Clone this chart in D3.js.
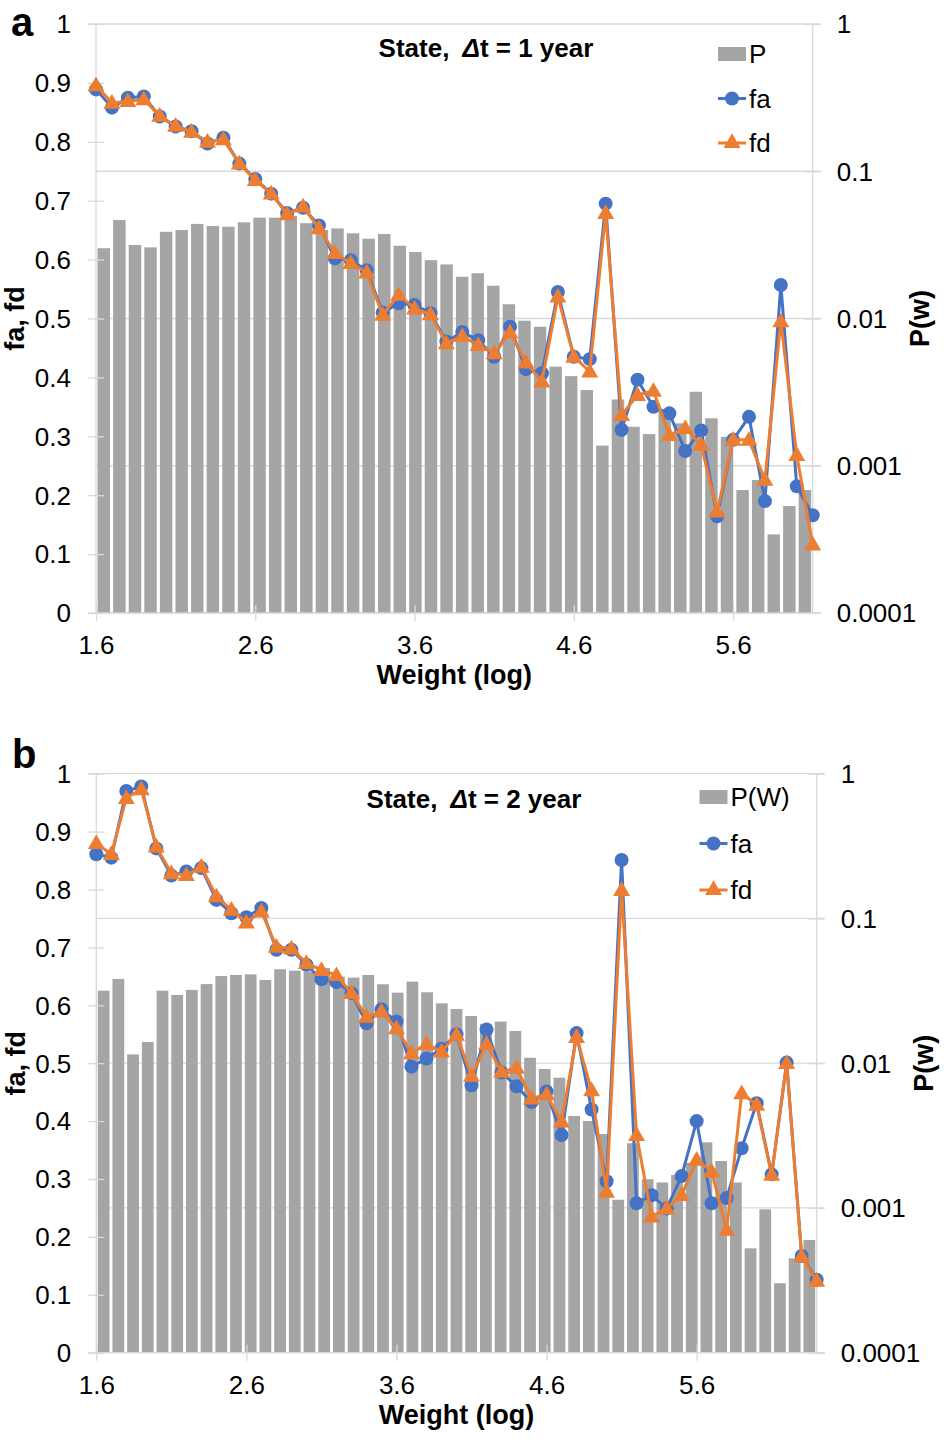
<!DOCTYPE html>
<html><head><meta charset="utf-8">
<script src="https://cdn.jsdelivr.net/npm/d3@7"></script>
<style>
html,body{margin:0;padding:0;background:#fff;}
svg text{font-family:"Liberation Sans",Arial,Helvetica,sans-serif;fill:#000;}
</style></head>
<body><svg id="chart" width="944" height="1441"></svg>
<script>
// ---------- DATA ----------
const weightsA = [1.6,1.7,1.8,1.9,2.0,2.1,2.2,2.3,2.4,2.5,2.6,2.7,2.8,2.9,3.0,3.1,3.2,3.3,3.4,3.5,3.6,3.7,3.8,3.9,4.0,4.1,4.2,4.3,4.4,4.5,4.6,4.7,4.8,4.9,5.0,5.1,5.2,5.3,5.4,5.5,5.6,5.7,5.8,5.9,6.0,6.1];
const pA = [0.0300,0.0467,0.0316,0.0304,0.0388,0.0399,0.0439,0.0425,0.0420,0.0450,
            0.0484,0.0484,0.0497,0.0444,0.0399,0.0409,0.0379,0.0348,0.0375,0.0312,
            0.0283,0.0249,0.0233,0.0192,0.0203,0.0167,0.0125,0.00966,0.00879,0.00471,
            0.00406,0.00327,0.00137,0.00282,0.00184,0.00164,0.00239,0.00194,0.00318,0.00210,
            0.00157,0.000684,0.000800,0.000342,0.000533,0.000684];
const faA = [0.889,0.858,0.875,0.877,0.843,0.826,0.818,0.797,0.807,0.763,
             0.737,0.712,0.679,0.688,0.658,0.602,0.599,0.582,0.510,0.526,
             0.523,0.509,0.461,0.477,0.463,0.435,0.486,0.414,0.407,0.545,
             0.435,0.431,0.695,0.311,0.396,0.350,0.339,0.275,0.310,0.164,
             0.294,0.333,0.190,0.557,0.215,0.166];
const fdA = [0.896,0.866,0.869,0.872,0.844,0.827,0.817,0.800,0.804,0.763,
             0.735,0.712,0.677,0.690,0.653,0.611,0.594,0.578,0.506,0.540,
             0.517,0.507,0.458,0.470,0.455,0.441,0.476,0.425,0.393,0.537,
             0.435,0.410,0.679,0.336,0.370,0.377,0.302,0.314,0.285,0.172,
             0.294,0.294,0.226,0.495,0.268,0.116];

const weightsB = [1.6,1.7,1.8,1.9,2.0,2.1,2.2,2.3,2.4,2.5,2.6,2.7,2.8,2.9,3.0,3.1,3.2,3.3,3.4,3.5,3.6,3.7,3.8,3.9,4.0,4.1,4.2,4.3,4.4,4.5,4.6,4.7,4.8,4.9,5.0,5.1,5.2,5.3,5.4,5.5,5.6,5.7,5.8,5.9,6.0,6.1,6.2,6.3,6.4];
const pB = [0.0317,0.0382,0.0115,0.0140,0.0317,0.0296,0.0321,0.0352,0.0400,0.0407,
            0.0411,0.0376,0.0446,0.0436,0.0429,0.0455,0.0396,0.0390,0.0407,0.0351,
            0.0307,0.0366,0.0309,0.0259,0.0237,0.0212,0.0187,0.0194,0.0167,0.0109,
            0.00912,0.00794,0.00432,0.00399,0.00324,0.00114,0.00280,0.00158,0.00150,0.00169,
            0.00205,0.00284,0.00211,0.00150,0.000526,0.000979,0.000302,0.000449,0.000601];
const faB = [0.861,0.855,0.970,0.978,0.871,0.824,0.831,0.837,0.782,0.759,
             0.752,0.768,0.696,0.696,0.670,0.645,0.640,0.621,0.569,0.593,
             0.572,0.494,0.508,0.525,0.550,0.462,0.558,0.484,0.460,0.433,
             0.451,0.376,0.552,0.420,0.296,0.851,0.258,0.272,0.249,0.305,
             0.400,0.258,0.267,0.353,0.431,0.308,0.501,0.167,0.126];
const fdB = [0.880,0.861,0.958,0.973,0.874,0.828,0.825,0.839,0.788,0.765,
             0.743,0.762,0.701,0.698,0.673,0.661,0.652,0.621,0.580,0.589,
             0.560,0.517,0.533,0.520,0.549,0.478,0.533,0.485,0.492,0.439,
             0.446,0.399,0.545,0.453,0.278,0.799,0.376,0.235,0.249,0.272,
             0.333,0.313,0.212,0.448,0.428,0.307,0.500,0.166,0.124];

const leftTicks = [0,0.1,0.2,0.3,0.4,0.5,0.6,0.7,0.8,0.9,1];
const leftTickLabels = ["0","0.1","0.2","0.3","0.4","0.5","0.6","0.7","0.8","0.9","1"];
const rightTicks = [0.0001,0.001,0.01,0.1,1];
const rightTickLabels = ["0.0001","0.001","0.01","0.1","1"];
const xTicks = [1.6,2.6,3.6,4.6,5.6];
const xTickLabels = ["1.6","2.6","3.6","4.6","5.6"];

// ---------- STYLE ----------
const BAR = "#a5a5a5", BLUE = "#4472c4", ORANGE = "#ed7d31", GRID = "#d9d9d9";
const FS = 26;

const svg = d3.select("#chart");

function drawPanel(o) {
  const g = svg.append("g");
  const x = d3.scaleLinear().domain([o.weights[0], o.weights[o.weights.length-1]]).range([o.x0, o.x1]);
  const band = d3.scaleBand().domain(o.weights.map(String)).range([o.x0, o.x1]).paddingInner(0.2).paddingOuter(0.1);
  const yL = d3.scaleLinear().domain([0,1]).range([o.yBot, o.yTop]);
  const yR = d3.scaleLog().domain([0.0001,1]).range([o.yBot, o.yTop]);

  // gridlines (right axis)
  g.append("g").selectAll("line").data(rightTicks).join("line")
    .attr("x1", (d,i) => i === rightTicks.length-1 ? o.x0-8 : o.x0)
    .attr("x2", o.x1+8)
    .attr("y1", d => yR(d)).attr("y2", d => yR(d))
    .attr("stroke", GRID).attr("stroke-width", 1.3);

  // bars
  g.append("g").selectAll("rect").data(o.p).join("rect")
    .attr("x", (d,i) => band(String(o.weights[i])))
    .attr("width", band.bandwidth())
    .attr("y", d => yR(d))
    .attr("height", d => o.yBot - yR(d))
    .attr("fill", BAR);

  // axis lines
  g.append("line").attr("x1", o.x0).attr("x2", o.x0).attr("y1", o.yTop).attr("y2", o.yBot).attr("stroke", GRID).attr("stroke-width",1.3);
  g.append("line").attr("x1", o.x1).attr("x2", o.x1).attr("y1", o.yTop).attr("y2", o.yBot).attr("stroke", GRID).attr("stroke-width",1.3);
  g.append("line").attr("x1", o.x0-8).attr("x2", o.x1+8).attr("y1", o.yBot).attr("y2", o.yBot).attr("stroke", GRID).attr("stroke-width",1.3);

  // left axis
  const la = g.append("g").attr("transform", `translate(${o.x0},0)`)
    .call(d3.axisLeft(yL).tickValues(leftTicks).tickFormat((d,i) => leftTickLabels[i]));
  la.select(".domain").remove();
  la.selectAll(".tick line").attr("x1",-8).attr("x2",8).attr("stroke",GRID).attr("stroke-width",1.3);
  la.selectAll(".tick text").attr("x",-25).attr("dy","0.34em").style("font-size",FS+"px").style("font-family",null);

  // right axis
  const ra = g.append("g").attr("transform", `translate(${o.x1},0)`)
    .call(d3.axisRight(yR).tickValues(rightTicks).tickFormat((d,i) => rightTickLabels[i]));
  ra.select(".domain").remove();
  ra.selectAll(".tick line").attr("x1",-8).attr("x2",8).attr("stroke",GRID).attr("stroke-width",1.3);
  ra.selectAll(".tick text").attr("x",24).attr("dy","0.34em").style("font-size",FS+"px").style("font-family",null);

  // bottom axis
  const ba = g.append("g").attr("transform", `translate(0,${o.yBot})`)
    .call(d3.axisBottom(x).tickValues(xTicks).tickFormat((d,i) => xTickLabels[i]));
  ba.select(".domain").remove();
  ba.selectAll(".tick line").attr("y1",-8).attr("y2",8).attr("stroke",GRID).attr("stroke-width",1.3);
  ba.selectAll(".tick text").attr("y",41).attr("dy","0").style("font-size",FS+"px").style("font-family",null);

  // series
  const series = [{v:o.fa, c:BLUE, m:"circle"}, {v:o.fd, c:ORANGE, m:"tri"}];
  const tri = d3.symbol().type(d3.symbolTriangle).size(125);
  series.forEach(s => {
    const line = d3.line().x((d,i) => x(o.weights[i])).y(d => yL(d));
    g.append("path").datum(s.v).attr("d", line).attr("fill","none").attr("stroke", s.c).attr("stroke-width", 3).attr("stroke-linejoin","round");
    if (s.m === "circle") {
      g.append("g").selectAll("circle").data(s.v).join("circle")
        .attr("cx", (d,i) => x(o.weights[i])).attr("cy", d => yL(d)).attr("r", 7).attr("fill", s.c);
    } else {
      g.append("g").selectAll("path").data(s.v).join("path")
        .attr("transform", (d,i) => `translate(${x(o.weights[i])},${yL(d)+1})`).attr("d", tri).attr("fill", s.c);
    }
  });

  // titles
  const cx = (o.x0 + o.x1)/2, cy = (o.yTop + o.yBot)/2;
  g.append("text").attr("x", cx).attr("y", o.yBot+71).attr("text-anchor","middle")
    .style("font-size","27px").style("font-weight","bold").text("Weight (log)");
  g.append("text").attr("transform", `translate(${o.leftTitleX},${cy}) rotate(-90)`).attr("text-anchor","middle")
    .style("font-size","27px").style("font-weight","bold").text("fa, fd");
  g.append("text").attr("transform", `translate(${o.rightTitleX},${cy}) rotate(-90)`).attr("text-anchor","middle")
    .style("font-size","27px").style("font-weight","bold").text("P(w)");

  // panel letter
  g.append("text").attr("x", o.letterX).attr("y", o.letterY).style("font-size","40px").style("font-weight","bold").text(o.letter);

  // chart title
  const t = g.append("text").attr("x", o.titleX).attr("y", o.titleY).attr("text-anchor","middle")
    .style("font-size","26px").style("font-weight","bold");
  t.append("tspan").text("State,");
  t.append("tspan").attr("dx", 13).style("font-style","italic").text("Δ");
  t.append("tspan").text("t = " + o.years + " year");

  // legend
  const lg = g.append("g").attr("transform", `translate(${o.legX},${o.legY})`);
  lg.append("rect").attr("x",0).attr("y",-7).attr("width",28).attr("height",14).attr("fill",BAR);
  lg.append("text").attr("x",31).attr("y",9).style("font-size",FS+"px").text(o.pLabel);
  const r1 = o.legGap, r2 = 2*o.legGap;
  lg.append("line").attr("x1",0).attr("x2",28).attr("y1",r1).attr("y2",r1).attr("stroke",BLUE).attr("stroke-width",3);
  lg.append("circle").attr("cx",14).attr("cy",r1).attr("r",7).attr("fill",BLUE);
  lg.append("text").attr("x",31).attr("y",r1+9).style("font-size",FS+"px").text("fa");
  lg.append("line").attr("x1",0).attr("x2",28).attr("y1",r2).attr("y2",r2).attr("stroke",ORANGE).attr("stroke-width",3);
  lg.append("path").attr("transform",`translate(14,${r2})`).attr("d",tri).attr("fill",ORANGE);
  lg.append("text").attr("x",31).attr("y",r2+9).style("font-size",FS+"px").text("fd");
}

drawPanel({weights:weightsA, p:pA, fa:faA, fd:fdA, x0:96, x1:812.7, yTop:24, yBot:613,
  leftTitleX:24, rightTitleX:929, letter:"a", letterX:11, letterY:36,
  titleX:486, titleY:57, years:1, legX:718, legY:54, legGap:44.5, pLabel:"P"});
drawPanel({weights:weightsB, p:pB, fa:faB, fd:fdB, x0:96.3, x1:816.7, yTop:773.7, yBot:1352.7,
  leftTitleX:25, rightTitleX:933, letter:"b", letterX:12, letterY:768,
  titleX:474, titleY:808, years:2, legX:699.5, legY:797, legGap:46.5, pLabel:"P(W)"});
</script>
</body></html>
